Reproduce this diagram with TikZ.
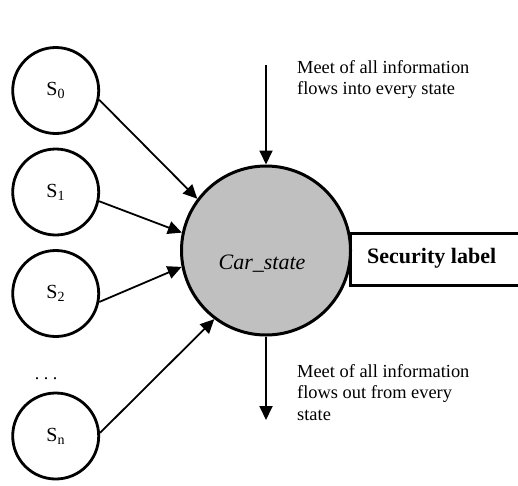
\documentclass[tikz,border=0pt]{standalone}
\usepackage{fontspec}
\setmainfont{Liberation Serif}
\usetikzlibrary{arrows.meta}
\begin{document}
\begin{tikzpicture}[x=1pt,y=-1pt,
  stnode/.style={circle,draw,line width=2.8pt,minimum size=86pt,inner sep=0pt,font=\fontsize{20}{24}\selectfont},
  mainnode/.style={circle,draw,line width=3pt,fill={rgb,255:red,192;green,192;blue,192},minimum size=169pt,inner sep=0pt},
  flow/.style={line width=1.8pt,-{Triangle[length=14pt,width=13pt]}},
  note/.style={align=left,inner sep=0pt,font=\fontsize{18.4}{21.3}\selectfont},
  big/.style={inner sep=0pt,font=\fontsize{22}{26}\selectfont}]
\useasboundingbox (0,0) rectangle (518,485);
% security label box (open on the right)
\draw[line width=3pt] (530,233) -- (350,233) -- (350,285) -- (530,285);
\node[mainnode] (C) at (266,250.5) {};
\node[big,anchor=base] (ct) at (262,269) {\textit{Car\_state}};
\node[big,anchor=base west] (sl) at (367,263) {\textbf{Security label}};
\node[stnode] (s0) at (55.7,90.5) {S\textsubscript{0}};
\node[stnode] (s1) at (55.7,192) {S\textsubscript{1}};
\node[stnode] (s2) at (55.7,293.5) {S\textsubscript{2}};
\node[stnode] (sn) at (55.7,436) {S\textsubscript{n}};
\node[anchor=base,inner sep=0pt,font=\fontsize{18}{21}\selectfont] (dots) at (46,379) {.\ .\ .};
\draw[flow] (s0.-12.5) -- (C.143.5);
\draw[flow] (s1.-12) -- (C.168.5);
\draw[flow] (s2.-11) -- (C.191.9);
\draw[flow] (sn.4) -- (C.233.5);
\coordinate (topin) at (266,65);
\coordinate (botout) at (266,420);
\draw[flow] (topin) -- (C.north);
\draw[flow] (C.south) -- (botout);
\node[note,anchor=north west] (n1) at (297,60) {Meet of all information\\flows into every state};
\node[note,anchor=north west] (n2) at (297,364.4) {Meet of all information\\flows out from every\\state};
\end{tikzpicture}
\end{document}
